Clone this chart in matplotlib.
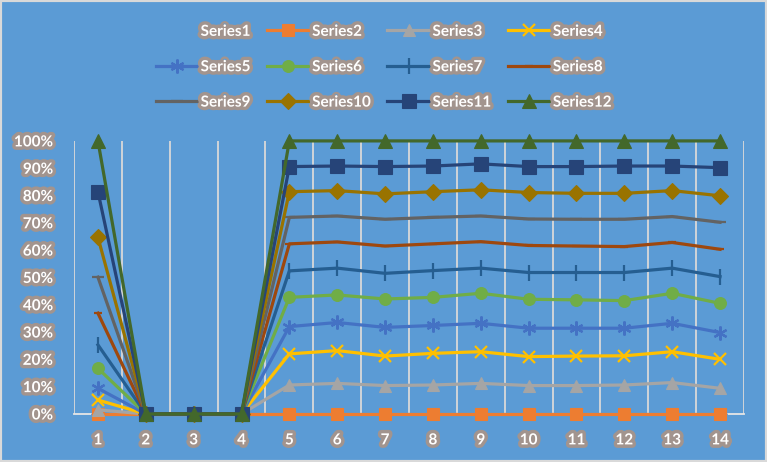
import matplotlib
matplotlib.use("Agg")
import matplotlib.pyplot as plt
import matplotlib.patheffects as pe
from matplotlib.patches import Rectangle

x_vals = list(range(1, 15))

s1 = [0, 0, 0, 0, 0, 0, 0, 0, 0, 0, 0, 0, 0, 0]
s2 = [0, 0, 0, 0, 0, 0, 0, 0, 0, 0, 0, 0, 0, 0]
s3 = [0.015, 0, 0, 0, 0.106, 0.112, 0.104, 0.106, 0.112, 0.104, 0.104, 0.106, 0.115, 0.094]
s4 = [0.051, 0, 0, 0, 0.220, 0.232, 0.212, 0.222, 0.228, 0.210, 0.212, 0.213, 0.228, 0.200]
s5 = [0.094, 0, 0, 0, 0.320, 0.335, 0.317, 0.324, 0.332, 0.314, 0.314, 0.314, 0.332, 0.298]
s6 = [0.167, 0, 0, 0, 0.427, 0.436, 0.421, 0.427, 0.442, 0.420, 0.418, 0.415, 0.442, 0.405]
s7 = [0.253, 0, 0, 0, 0.524, 0.534, 0.515, 0.525, 0.534, 0.518, 0.518, 0.518, 0.534, 0.503]
s8 = [0.369, 0, 0, 0, 0.623, 0.630, 0.615, 0.623, 0.631, 0.617, 0.615, 0.613, 0.628, 0.603]
s9 = [0.501, 0, 0, 0, 0.720, 0.725, 0.713, 0.720, 0.725, 0.714, 0.713, 0.713, 0.723, 0.702]
s10 = [0.647, 0, 0, 0, 0.814, 0.818, 0.806, 0.814, 0.821, 0.811, 0.808, 0.808, 0.818, 0.799]
s11 = [0.814, 0, 0, 0, 0.906, 0.908, 0.906, 0.908, 0.916, 0.906, 0.906, 0.908, 0.908, 0.902]
s12 = [1.0, 0, 0, 0, 1.0, 1.0, 1.0, 1.0, 1.0, 1.0, 1.0, 1.0, 1.0, 1.0]

series = [s1, s2, s3, s4, s5, s6, s7, s8, s9, s10, s11, s12]
names = ["Series%d" % i for i in range(1, 13)]
colors = ["#5B9BD5", "#ED7D31", "#A5A5A5", "#FFC000", "#4472C4", "#70AD47",
          "#255E91", "#9E480E", "#636363", "#997300", "#264478", "#43682B"]
markers = ["D", "s", "^", "x", (6, 2, 0), "o", "|", "_", "_", "D", "s", "^"]
msizes = [7, 9, 9, 9, 10, 8.5, 11, 6, 8, 8, 9.5, 9.5]

bg = "#5B9BD5"
glow = [pe.withStroke(linewidth=5, foreground="#A2948E")]

fig = plt.figure(figsize=(7.67, 4.62), dpi=100, facecolor=bg)
ax = fig.add_axes([0.0965, 0.104, 0.8735, 0.591])
ax.set_facecolor(bg)

lines = []
for i, (vals, name) in enumerate(zip(series, names)):
    thin = markers[i] in ("x", "|", "_") or isinstance(markers[i], tuple)
    ln, = ax.plot(x_vals, vals, color=colors[i], lw=2.3, marker=markers[i],
                  markersize=msizes[i], markeredgewidth=1.6 if thin else 0.8,
                  markeredgecolor=colors[i], markerfacecolor=colors[i],
                  label=name, zorder=3 + i, clip_on=False)
    lines.append(ln)

ax.set_xlim(0.5, 14.5)
ax.set_ylim(0, 1)
for gx in [v + 0.5 for v in range(0, 15)]:
    ax.axvline(gx, color="#D9D9D9", lw=1.3, zorder=1)
for sp in ["top", "left", "right"]:
    ax.spines[sp].set_visible(False)
ax.spines["bottom"].set_color("#E6E6E6")
ax.spines["bottom"].set_linewidth(1.3)

ax.set_xticks(x_vals)
ax.set_xticklabels([str(v) for v in x_vals])
ax.set_yticks([i / 10 for i in range(11)])
ax.set_yticklabels(["%d%%" % (i * 10) for i in range(11)])
ax.tick_params(length=0, colors="white")
ax.tick_params(axis="x", pad=14)
ax.tick_params(axis="y", pad=15)
for lab in ax.get_xticklabels() + ax.get_yticklabels():
    lab.set_fontfamily("Lato")
    lab.set_fontweight("bold")
    lab.set_fontsize(11)
    lab.set_color("white")
    lab.set_path_effects(glow)

# legend filled row by row (matplotlib fills column by column)
order = [0, 4, 8, 1, 5, 9, 2, 6, 10, 3, 7, 11]
leg = fig.legend([lines[k] for k in order], [names[k] for k in order],
                 loc="upper center", bbox_to_anchor=(0.5, 0.976), ncol=4,
                 frameon=False, handlelength=2.8, handletextpad=0.15,
                 columnspacing=1.1, labelspacing=1.4,
                 prop={"family": "Lato", "weight": "bold", "size": 11})
for t in leg.get_texts():
    t.set_color("white")
    t.set_path_effects(glow)

fig.add_artist(Rectangle((0, 0), 1, 1, transform=fig.transFigure, fill=False,
                         edgecolor="#D9D9D9", lw=3))

fig.savefig("out.png", dpi=100, facecolor=bg)
